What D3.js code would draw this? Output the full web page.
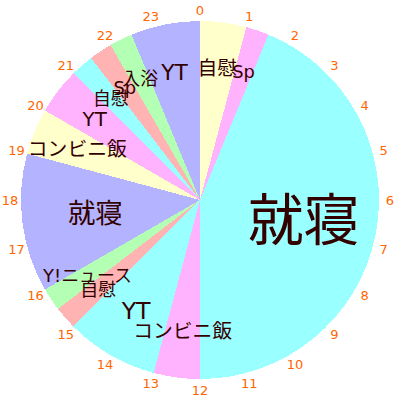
<!DOCTYPE html>
<html>
<head>
<meta charset="utf-8">
<script src="https://cdn.jsdelivr.net/npm/d3@7"></script>
<style>
  body { margin: 0; background: #fff; }
  svg { display: block; }
</style>
</head>
<body>
<svg id="clock" width="400" height="400"></svg>
<script>
// one day, hour by hour
const activities = ["自慰", "Sp", "就寝", "コンビニ飯", "YT", "自慰", "Y!ニュース", "就寝", "コンビニ飯", "YT", "自慰", "Sp", "入浴", "YT"];
const startHours = [0, 1, 1.5, 12, 13, 15, 15.5, 16, 19, 20, 21, 21.5, 22, 22.5];
const endHours = [1, 1.5, 12, 13, 15, 15.5, 16, 19, 20, 21, 21.5, 22, 22.5, 24];
const hourTicks = [0, 1, 2, 3, 4, 5, 6, 7, 8, 9, 10, 11, 12, 13, 14, 15, 16, 17, 18, 19, 20, 21, 22, 23];

// colours of the slices, in the same order
const sliceColors = ["#ffffcc", "#ffb3ff", "#99ffff", "#ffb3ff", "#99ffff", "#ffb3b3", "#b3ffb3",
                     "#b3b3ff", "#ffffcc", "#ffb3ff", "#99ffff", "#ffb3b3", "#b3ffb3", "#b3b3ff"];

const cx = 200, cy = 200, radius = 179;

const angle = d3.scaleLinear().domain([0, 24]).range([0, 2 * Math.PI]);

const slices = activities.map((name, i) => ({
    name: name,
    start: startHours[i],
    end: endHours[i],
    color: sliceColors[i]
}));

const svg = d3.select("#clock");
const g = svg.append("g").attr("transform", `translate(${cx},${cy})`);

const arc = d3.arc()
    .innerRadius(0)
    .outerRadius(radius)
    .startAngle(d => angle(d.start))
    .endAngle(d => angle(d.end));

g.selectAll("path.slice")
    .data(slices)
    .join("path")
    .attr("class", "slice")
    .attr("d", arc)
    .attr("fill", d => d.color)
    .attr("shape-rendering", "crispEdges");

// hour numbers round the outside
g.selectAll("text.hour")
    .data(hourTicks)
    .join("text")
    .attr("class", "hour")
    .attr("x", h => 190 * Math.sin(angle(h)))
    .attr("y", h => -190 * Math.cos(angle(h)))
    .attr("text-anchor", "middle")
    .attr("dominant-baseline", "central")
    .style("font-family", "'DejaVu Sans', sans-serif")
    .style("font-size", "13px")
    .style("fill", "#ff6600")
    .text(h => h);

// names, bigger for longer slices
function labelSize(d) {
    return 16 + 3.8 * (d.end - d.start);
}
function labelRadius(d) {
    const dur = d.end - d.start;
    if (dur >= 3) return radius * 0.59;
    return radius * 0.77 - 5 * dur;
}

g.selectAll("text.label")
    .data(slices)
    .join("text")
    .attr("class", "label")
    .attr("x", d => labelRadius(d) * Math.sin(angle((d.start + d.end) / 2)))
    .attr("y", d => -labelRadius(d) * Math.cos(angle((d.start + d.end) / 2)))
    .attr("text-anchor", "middle")
    .attr("dominant-baseline", "central")
    .style("font-family", "'DejaVu Sans', 'Noto Sans CJK JP', sans-serif")
    .style("font-size", d => labelSize(d) + "px")
    .style("fill", "#330000")
    .text(d => d.name);
</script>
</body>
</html>
